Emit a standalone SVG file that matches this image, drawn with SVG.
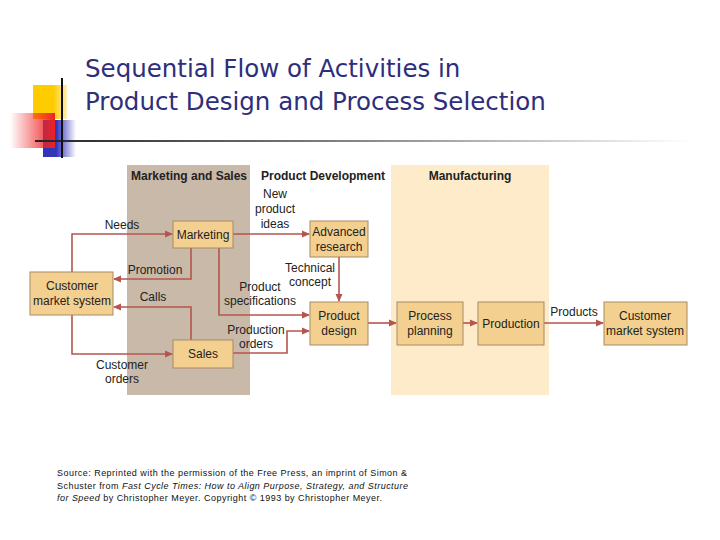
<svg xmlns="http://www.w3.org/2000/svg" width="720" height="540" viewBox="0 0 720 540">
<defs>
<style>
.box{fill:#f3d08f;stroke:#a88a64;stroke-width:1}
.t{font-family:"Liberation Sans",Arial,sans-serif;font-size:12px;fill:#222;text-anchor:middle}
.h{font-family:"Liberation Sans",Arial,sans-serif;font-size:12px;font-weight:bold;fill:#222;text-anchor:middle}
.c{fill:none;stroke:#b5554d;stroke-width:1.6;marker-end:url(#a)}
.src{font-family:"Liberation Sans",Arial,sans-serif;font-size:9px;fill:#111}
</style>
<marker id="a" markerWidth="8" markerHeight="8" refX="7" refY="4" orient="auto" markerUnits="userSpaceOnUse"><path d="M0,0.5 L8,4 L0,7.5 Z" fill="#b5554d"/></marker>
<linearGradient id="hl" x1="0" x2="1"><stop offset="0" stop-color="#222"/><stop offset="0.5" stop-color="#888"/><stop offset="1" stop-color="#fff"/></linearGradient>
<linearGradient id="rd" x1="1" x2="0"><stop offset="0" stop-color="#ee2222"/><stop offset="1" stop-color="#ee2222" stop-opacity="0"/></linearGradient>
<linearGradient id="bl" x1="0" x2="1"><stop offset="0.4" stop-color="#3333bb"/><stop offset="1" stop-color="#3333bb" stop-opacity="0"/></linearGradient>
<linearGradient id="yl" x1="0" x2="1"><stop offset="0.6" stop-color="#ffcc00"/><stop offset="1" stop-color="#ffcc00" stop-opacity="0.3"/></linearGradient>
</defs>
<rect width="720" height="540" fill="#fff"/>
<g id="deco">
<rect x="33" y="85" width="34" height="34" fill="url(#yl)"/>
<rect x="43" y="120" width="33" height="37" fill="url(#bl)"/>
<rect x="10" y="113" width="45" height="35" fill="url(#rd)"/>
<rect x="35" y="140" width="655" height="2" fill="url(#hl)"/>
<rect x="61" y="78" width="2" height="80" fill="#111"/>
</g>
<g id="title" font-family="Tahoma,'DejaVu Sans',sans-serif" font-size="24.5" fill="#2e2e7a">
<text x="85" y="77">Sequential Flow of Activities in</text>
<text x="85" y="110">Product Design and Process Selection</text>
</g>
<g id="bands">
<rect x="127" y="165" width="123" height="230" fill="#c9b9a9"/>
<rect x="391" y="165" width="158" height="230" fill="#fdebc9"/>
<text class="h" x="189" y="180">Marketing and Sales</text>
<text class="h" x="323" y="180">Product Development</text>
<text class="h" x="470" y="180">Manufacturing</text>
</g>
<g id="connectors">
<polyline class="c" points="72,272 72,234 172,234"/>
<polyline class="c" points="191,248 191,279 114,279"/>
<polyline class="c" points="191,340 191,307 114,307"/>
<polyline class="c" points="72,315 72,354 172,354"/>
<polyline class="c" points="233,234 309,234"/>
<polyline class="c" points="339,257 339,301"/>
<polyline class="c" points="219,248 219,315 309,315"/>
<polyline class="c" points="233,353 287,353 287,331 309,331"/>
<polyline class="c" points="368,323 396,323"/>
<polyline class="c" points="463,323 477,323"/>
<polyline class="c" points="544,323 603,323"/>
<g class="t">
<text x="122" y="229">Needs</text>
<text x="155" y="274">Promotion</text>
<text x="153" y="301">Calls</text>
<text x="122" y="369">Customer</text><text x="122" y="383">orders</text>
<text x="275" y="198">New</text><text x="275" y="213">product</text><text x="275" y="228">ideas</text>
<text x="310" y="272">Technical</text><text x="310" y="286">concept</text>
<text x="260" y="291">Product</text><text x="260" y="305">specifications</text>
<text x="256" y="334">Production</text><text x="256" y="348">orders</text>
<text x="574" y="316">Products</text>
</g>
</g>
<g id="cms-left"><rect class="box" x="30" y="272" width="83" height="43"/><text class="t" x="72" y="290">Customer</text><text class="t" x="72" y="305">market system</text></g>
<g id="marketing"><rect class="box" x="173" y="221" width="60" height="27"/><text class="t" x="203" y="239">Marketing</text></g>
<g id="sales"><rect class="box" x="173" y="340" width="60" height="28"/><text class="t" x="203" y="358">Sales</text></g>
<g id="advanced-research"><rect class="box" x="310" y="221" width="58" height="36"/><text class="t" x="339" y="236">Advanced</text><text class="t" x="339" y="251">research</text></g>
<g id="product-design"><rect class="box" x="310" y="302" width="58" height="43"/><text class="t" x="339" y="320">Product</text><text class="t" x="339" y="335">design</text></g>
<g id="process-planning"><rect class="box" x="397" y="302" width="66" height="43"/><text class="t" x="430" y="320">Process</text><text class="t" x="430" y="335">planning</text></g>
<g id="production"><rect class="box" x="478" y="302" width="66" height="43"/><text class="t" x="511" y="328">Production</text></g>
<g id="cms-right"><rect class="box" x="604" y="302" width="83" height="43"/><text class="t" x="645" y="320">Customer</text><text class="t" x="645" y="335">market system</text></g>
<g id="source">
<text class="src" x="57" y="476" textLength="350" lengthAdjust="spacing">Source: Reprinted with the permission of the Free Press, an imprint of Simon &amp;</text>
<text class="src" x="57" y="489" textLength="351" lengthAdjust="spacing">Schuster from <tspan font-style="italic">Fast Cycle Times: How to Align Purpose, Strategy, and Structure</tspan></text>
<text class="src" x="57" y="501" textLength="325" lengthAdjust="spacing"><tspan font-style="italic">for Speed</tspan> by Christopher Meyer. Copyright © 1993 by Christopher Meyer.</text>
</g>
</svg>
